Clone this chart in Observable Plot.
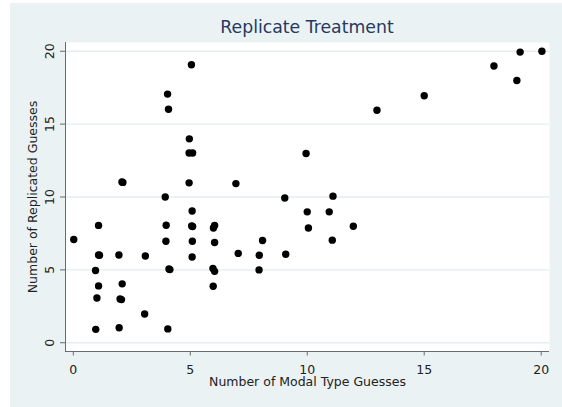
<!DOCTYPE html>
<html>
<head>
<meta charset="utf-8">
<script src="https://cdn.jsdelivr.net/npm/d3@7"></script>
<script src="https://cdn.jsdelivr.net/npm/@observablehq/plot@0.6"></script>
<style>
  html, body { margin: 0; padding: 0; background: #ffffff; }
  #wrap { position: absolute; left: 10px; top: 3px; width: 552px; height: 404px; background: #eaf2f3; overflow: hidden; }
  #title { position: absolute; left: 55px; width: 484px; top: 15.7px; text-align: center;
           font-family: "DejaVu Sans", sans-serif; font-size: 17.3px; line-height: 1; color: #27395f; }
  #chart { position: absolute; left: 0; top: 0; }
</style>
</head>
<body>
<div id="wrap">
  <div id="chart"></div>
  <div id="title">Replicate Treatment</div>
</div>
<script>
const title = "Replicate Treatment";
const xLabel = "Number of Modal Type Guesses";
const yLabel = "Number of Replicated Guesses";
const xTicks = [0, 5, 10, 15, 20];
const yTicks = [0, 5, 10, 15, 20];

const modalGuesses = [
  0.02, 0.95, 1.08, 1.08, 1.12, 1.08, 1.01, 0.96, 1.95, 2.08, 2.12, 2.09, 2.00, 2.06, 1.96,
  3.08, 3.05, 3.93, 3.97, 3.96, 4.09, 4.13, 4.04, 4.03, 4.07,
  5.05, 4.96, 4.95, 5.10, 4.95, 5.08, 5.06, 5.10, 5.09, 5.08,
  6.04, 5.99, 6.04, 5.97, 6.04, 5.98, 6.95, 7.05, 7.95, 7.94, 8.09,
  9.04, 9.08, 9.95, 10.00, 10.05, 10.94, 11.10, 11.07, 11.97,
  12.98, 15.00, 17.98, 18.96, 19.10, 20.03
];
const replicatedGuesses = [
  7.08, 4.96, 8.05, 6.02, 6.00, 3.90, 3.07, 0.92, 6.02, 11.03, 11.00, 4.04, 3.00, 2.96, 1.03,
  5.95, 1.97, 10.00, 8.06, 6.96, 5.06, 5.02, 0.95, 17.06, 16.02,
  19.07, 13.99, 13.02, 13.02, 10.97, 9.04, 8.01, 7.98, 6.96, 5.88,
  8.04, 7.87, 6.88, 5.10, 4.90, 3.88, 10.92, 6.13, 6.00, 5.00, 7.02,
  9.93, 6.07, 12.98, 8.98, 7.87, 8.98, 10.06, 7.04, 7.99,
  15.95, 16.95, 18.99, 17.99, 19.94, 20.00
];

const data = modalGuesses.map((x, i) => ({x, y: replicatedGuesses[i]}));
const xDomain = [-0.333, 20.355];
const yDomain = [-0.6, 20.6];

const axisColor = "#6b6b6b";
const textColor = "#222222";

const plot = Plot.plot({
  width: 552,
  height: 404,
  marginLeft: 55,
  marginRight: 13,
  marginTop: 39,
  marginBottom: 56,
  style: { background: "transparent", fontFamily: "DejaVu Sans, sans-serif", fontSize: "12.5px", color: textColor },
  x: { domain: xDomain },
  y: { domain: yDomain },
  marks: [
    Plot.frame({ fill: "white", stroke: "none" }),
    Plot.gridY(yTicks, { stroke: "#e4eef0", strokeOpacity: 1, strokeWidth: 1.3 }),
    Plot.ruleX([xDomain[0]], { stroke: axisColor, strokeWidth: 1 }),
    Plot.ruleY([yDomain[0]], { stroke: axisColor, strokeWidth: 1 }),
    Plot.axisX(xTicks, {
      tickSize: 4.5, tickPadding: 9, stroke: axisColor, fill: textColor,
      label: xLabel, labelAnchor: "center", labelArrow: "none", labelOffset: 34
    }),
    Plot.axisY(yTicks, {
      tickSize: 5, tickPadding: 6.8, tickRotate: -90, stroke: axisColor, fill: textColor,
      label: yLabel, labelAnchor: "center", labelArrow: "none", labelOffset: 37.4
    }),
    Plot.dot(data, { x: "x", y: "y", r: 3.7, fill: "black", stroke: "none" })
  ]
});
document.getElementById("chart").appendChild(plot);
</script>
</body>
</html>
